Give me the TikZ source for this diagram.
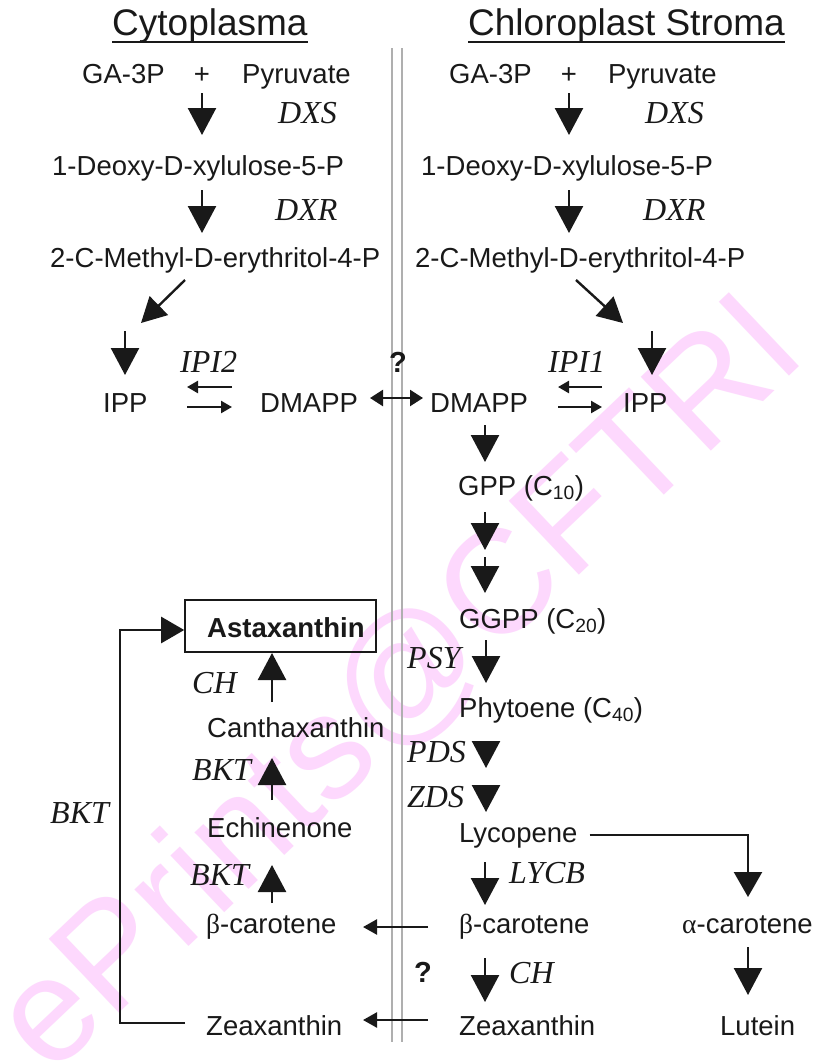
\documentclass[tikz,border=0pt]{standalone}
\usepackage{fontspec}
\setmainfont{Liberation Sans}
\newfontfamily\tnr{Liberation Serif}
\usetikzlibrary{arrows.meta}
\definecolor{ink}{RGB}{25,25,25}
\definecolor{wm}{RGB}{253,216,253}
\definecolor{divc}{RGB}{175,175,175}
\begin{document}
\begin{tikzpicture}[x=1pt,y=-1pt,
  txt/.style={anchor=base west, inner sep=0pt, text=ink, font=\fontsize{27.5}{30}\selectfont},
  ctxt/.style={txt, anchor=base},
  enz/.style={anchor=base west, inner sep=0pt, text=ink, font=\tnr\itshape\fontsize{32}{34}\selectfont},
  ttl/.style={anchor=base west, inner sep=0pt, text=ink, font=\fontsize{37}{40}\selectfont},
  qm/.style={anchor=base, inner sep=0pt, text=ink, font=\bfseries\fontsize{29}{30}\selectfont},
  uline/.style={line width=2pt, ink},
  divline/.style={line width=1.4pt, divc},
  bigarr/.style={line width=2.4pt, ink, -{Triangle[width=28pt,length=27pt]}},
  diagarr/.style={line width=2.4pt, ink, -{Triangle[width=26pt,length=25pt]}},
  smallarr/.style={line width=2.4pt, ink, -{Triangle[width=12pt,length=11pt]}},
  dblarr/.style={line width=2.4pt, ink, {Triangle[width=16pt,length=13pt]}-{Triangle[width=16pt,length=13pt]}},
  midarr/.style={line width=2.4pt, ink, -{Triangle[width=15pt,length=14pt]}},
  brkarr/.style={line width=2.4pt, ink, -{Triangle[width=26pt,length=23pt]}},
  boxst/.style={draw=ink, line width=1.6pt, inner sep=0pt}
]
\useasboundingbox (0,0) rectangle (818,1061);
\fill[white] (0,0) rectangle (818,1061);

% watermark
\node[inner sep=0pt, text=wm, font=\fontsize{148}{150}\selectfont, rotate=43.5] (wmk) at (400,686) {ePrints@CFTRI};

% dividers
\coordinate (d1t) at (392,48); \coordinate (d1b) at (392,1042);
\coordinate (d2t) at (402,48); \coordinate (d2b) at (402,1042);
\draw[divline] (d1t) -- (d1b);
\draw[divline] (d2t) -- (d2b);

% titles
\node[ttl] (cyto) at (112,35) {Cytoplasma};
\draw[uline] ([yshift=-7pt]cyto.base west) -- ([yshift=-7pt]cyto.base east);
\node[ttl] (chlo) at (468,35) {Chloroplast Stroma};
\draw[uline] ([yshift=-7pt]chlo.base west) -- ([yshift=-7pt]chlo.base east);

% ---------------- left column (cytoplasma) ----------------
\node[txt] (gaL) at (82,83) {GA-3P};
\node[ctxt] (plusL) at (202,83) {+};
\node[txt] (pyrL) at (242,83) {Pyruvate};
\coordinate (a1Ls) at (202,93); \coordinate (a1Le) at (202,135);
\draw[bigarr] (a1Ls) -- (a1Le);
\node[enz] (dxsL) at (278,123) {DXS};
\node[txt] (dxpL) at (52,175) {1-Deoxy-D-xylulose-5-P};
\coordinate (a2Ls) at (202,190); \coordinate (a2Le) at (202,233);
\draw[bigarr] (a2Ls) -- (a2Le);
\node[enz] (dxrL) at (275,220) {DXR};
\node[txt] (mepL) at (50,267) {2-C-Methyl-D-erythritol-4-P};
\coordinate (dgLs) at (185,280); \coordinate (dgLe) at (141,323);
\draw[diagarr] (dgLs) -- (dgLe);
\coordinate (dnLs) at (125,331); \coordinate (dnLe) at (125,375);
\draw[bigarr] (dnLs) -- (dnLe);

\node[txt] (ippL) at (103,412) {IPP};
\node[enz] (ipi2) at (180,372) {IPI2};
\coordinate (i2as) at (232,387); \coordinate (i2ae) at (187,387);
\draw[smallarr] (i2as) -- (i2ae);
\coordinate (i2bs) at (187,407); \coordinate (i2be) at (232,407);
\draw[smallarr] (i2bs) -- (i2be);
\node[txt] (dmL) at (260,412) {DMAPP};
\coordinate (dbs) at (370,398); \coordinate (dbe) at (423,398);
\draw[dblarr] (dbs) -- (dbe);
\node[qm] (q1) at (398,372) {?};

% ---------------- right column (chloroplast) ----------------
\node[txt] (gaR) at (449,83) {GA-3P};
\node[ctxt] (plusR) at (569,83) {+};
\node[txt] (pyrR) at (608,83) {Pyruvate};
\coordinate (a1Rs) at (569,93); \coordinate (a1Re) at (569,135);
\draw[bigarr] (a1Rs) -- (a1Re);
\node[enz] (dxsR) at (645,123) {DXS};
\node[txt] (dxpR) at (421,175) {1-Deoxy-D-xylulose-5-P};
\coordinate (a2Rs) at (569,190); \coordinate (a2Re) at (569,233);
\draw[bigarr] (a2Rs) -- (a2Re);
\node[enz] (dxrR) at (643,220) {DXR};
\node[txt] (mepR) at (415,267) {2-C-Methyl-D-erythritol-4-P};
\coordinate (dgRs) at (576,280); \coordinate (dgRe) at (623,323);
\draw[diagarr] (dgRs) -- (dgRe);
\coordinate (dnRs) at (652,331); \coordinate (dnRe) at (652,375);
\draw[bigarr] (dnRs) -- (dnRe);

\node[txt] (dmR) at (430,412) {DMAPP};
\node[enz] (ipi1) at (548,372) {IPI1};
\coordinate (i1as) at (602,387); \coordinate (i1ae) at (558,387);
\draw[smallarr] (i1as) -- (i1ae);
\coordinate (i1bs) at (558,407); \coordinate (i1be) at (602,407);
\draw[smallarr] (i1bs) -- (i1be);
\node[txt] (ippR) at (623,412) {IPP};

\coordinate (g0s) at (485,425); \coordinate (g0e) at (485,462);
\draw[bigarr] (g0s) -- (g0e);
\node[txt] (gpp) at (458,495) {GPP (C\textsubscript{10})};
\coordinate (g1s) at (485,512); \coordinate (g1e) at (485,550);
\draw[bigarr] (g1s) -- (g1e);
\coordinate (g2s) at (485,557); \coordinate (g2e) at (485,593);
\draw[bigarr] (g2s) -- (g2e);
\node[txt] (ggpp) at (459,628) {GGPP (C\textsubscript{20})};
\node[enz] (psy) at (407,668) {PSY};
\coordinate (p1s) at (486,640); \coordinate (p1e) at (486,683);
\draw[bigarr] (p1s) -- (p1e);
\node[txt] (phy) at (459,717) {Phytoene (C\textsubscript{40})};
\node[enz] (pds) at (407,762) {PDS};
\coordinate (p2s) at (486,741); \coordinate (p2e) at (486,768);
\draw[bigarr] (p2s) -- (p2e);
\node[enz] (zds) at (407,807) {ZDS};
\coordinate (p3s) at (486,786); \coordinate (p3e) at (486,812);
\draw[bigarr] (p3s) -- (p3e);
\node[txt] (lyc) at (459,842) {Lycopene};
\coordinate (lyc1) at (748,835);
\coordinate (acArr) at (748,897);
\draw[line width=2.4pt, ink, -{Triangle[width=28pt,length=25pt]}] ([xshift=12pt,yshift=7pt]lyc.base east) -- (lyc1) -- (acArr);
\coordinate (lbs) at (485,862); \coordinate (lbe) at (485,905);
\draw[bigarr] (lbs) -- (lbe);
\node[enz] (lycb) at (509,883) {LYCB};
\node[txt] (bcR) at (459,933) {{\tnr β}-carotene};
\node[txt] (ac) at (682,933) {{\tnr α}-carotene};
\coordinate (lus) at (748,947); \coordinate (lue) at (748,995);
\draw[bigarr] (lus) -- (lue);
\node[qm] (q2) at (423,982) {?};
\coordinate (chs) at (485,958); \coordinate (che) at (485,1002);
\draw[bigarr] (chs) -- (che);
\node[enz] (chR) at (509,983) {CH};
\node[txt] (zeR) at (459,1035) {Zeaxanthin};
\node[txt] (lut) at (720,1035) {Lutein};

% ---------------- left lower part ----------------
\node[txt] (bcL) at (206,933) {{\tnr β}-carotene};
\coordinate (h1s) at (428,927); \coordinate (h1e) at (363,927);
\draw[midarr] (h1s) -- (h1e);
\node[txt] (zeL) at (206,1035) {Zeaxanthin};
\coordinate (h2s) at (428,1020); \coordinate (h2e) at (363,1020);
\draw[midarr] (h2s) -- (h2e);

\node[boxst, minimum width=191pt, minimum height=52pt] (astabox) at (280.5,626) {};
\node[txt, font=\bfseries\fontsize{27.5}{30}\selectfont] (asta) at (207,637) {Astaxanthin};
\node[enz] (chL) at (192,693) {CH};
\coordinate (u1s) at (272,702); \coordinate (u1e) at (272,653);
\draw[bigarr] (u1s) -- (u1e);
\node[txt] (can) at (207,737) {Canthaxanthin};
\node[enz] (bkt1) at (192,780) {BKT};
\coordinate (u2s) at (272,800); \coordinate (u2e) at (272,758);
\draw[bigarr] (u2s) -- (u2e);
\node[txt] (ech) at (207,837) {Echinenone};
\node[enz] (bkt2) at (190,885) {BKT};
\coordinate (u3s) at (272,903); \coordinate (u3e) at (272,865);
\draw[bigarr] (u3s) -- (u3e);
\node[enz] (bkt3) at (50,823) {BKT};

\coordinate (bk1) at (185,1023);
\coordinate (bk2) at (120,1023);
\coordinate (bk3) at (120,630);
\draw[brkarr] (bk1) -- (bk2) -- (bk3) -- (astabox.west |- bk3);
\end{tikzpicture}
\end{document}
